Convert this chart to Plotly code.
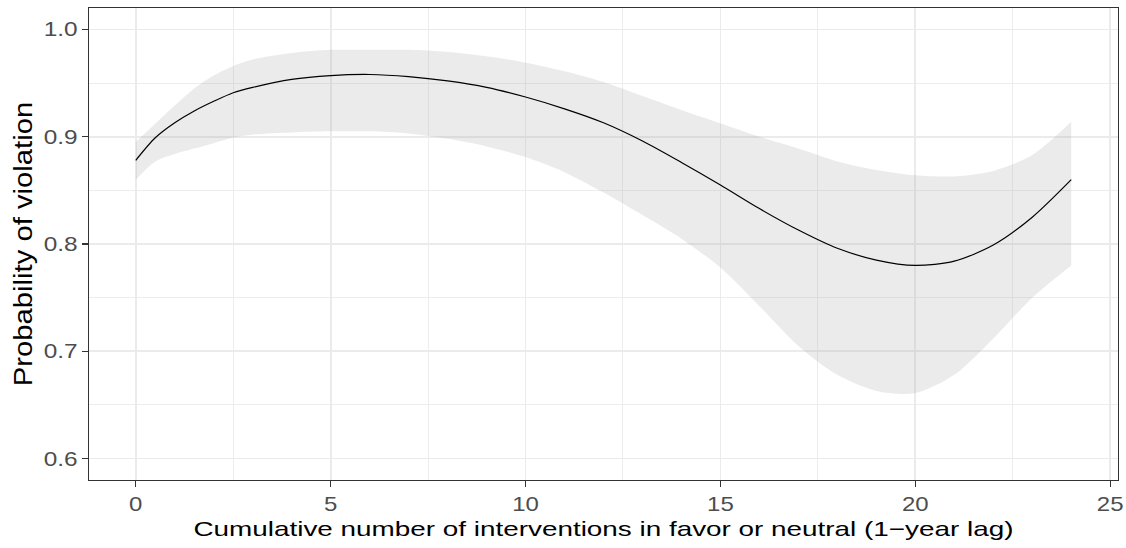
import plotly.graph_objects as go

# Data
x_vals = [0, 0.5, 1, 1.5, 2, 2.5, 3, 4, 5, 6, 7, 8, 9, 10, 11, 12, 13, 14, 15,
          16, 17, 18, 19, 20, 21, 22, 23, 24]
fit = [0.878, 0.899, 0.913, 0.924, 0.933, 0.941, 0.946, 0.9535, 0.957, 0.958,
       0.956, 0.952, 0.946, 0.937, 0.926, 0.913, 0.896, 0.876, 0.855, 0.833,
       0.813, 0.796, 0.785, 0.780, 0.784, 0.799, 0.825, 0.860]
upper = [0.895, 0.912, 0.929, 0.945, 0.957, 0.966, 0.972, 0.978, 0.981, 0.981,
         0.981, 0.979, 0.975, 0.969, 0.961, 0.951, 0.938, 0.925, 0.9125, 0.900,
         0.889, 0.877, 0.869, 0.864, 0.863, 0.868, 0.883, 0.914]
lower = [0.860, 0.877, 0.884, 0.889, 0.894, 0.899, 0.902, 0.904, 0.905, 0.905,
         0.903, 0.898, 0.891, 0.881, 0.867, 0.848, 0.827, 0.805, 0.778, 0.742,
         0.705, 0.678, 0.663, 0.661, 0.678, 0.712, 0.750, 0.780]

x_title = "Cumulative number of interventions in favor or neutral (1\u2212year lag)"
y_title = "Probability of violation"

FONT = "Liberation Sans, Arial, Helvetica, sans-serif"

fig = go.Figure()
fig.add_trace(go.Scatter(x=x_vals, y=lower, mode="lines",
                         line=dict(width=0, shape="spline", smoothing=0.8),
                         hoverinfo="skip", showlegend=False))
fig.add_trace(go.Scatter(x=x_vals, y=upper, mode="lines",
                         line=dict(width=0, shape="spline", smoothing=0.8),
                         fill="tonexty", fillcolor="rgba(153,153,153,0.2)",
                         hoverinfo="skip", showlegend=False))
fig.add_trace(go.Scatter(x=x_vals, y=fit, mode="lines",
                         line=dict(color="black", width=1.2, shape="spline", smoothing=0.8),
                         showlegend=False))

axis_common = dict(
    showline=True, mirror=True, linecolor="#333333", linewidth=1.3,
    ticks="outside", ticklen=6, tickwidth=1.3, tickcolor="#333333",
    showgrid=True, gridcolor="#EBEBEB", gridwidth=1.8,
    zeroline=False, automargin=False,
    tickfont=dict(family=FONT, size=20, color="#4D4D4D"),
)

fig.update_layout(
    width=1126, height=548,
    margin=dict(l=89, r=8, t=8, b=68),
    paper_bgcolor="white", plot_bgcolor="white",
    font=dict(family=FONT),
    xaxis=dict(
        range=[-1.2, 25.2], tick0=0, dtick=5,
        minor=dict(tick0=0, dtick=2.5, showgrid=True, gridcolor="#EBEBEB",
                   gridwidth=0.9, ticklen=0),
        title=dict(text=x_title, font=dict(family=FONT, size=20.5, color="black"),
                   standoff=7),
        **axis_common,
    ),
    yaxis=dict(
        range=[0.58, 1.02], tick0=0.6, dtick=0.1, tickformat=".1f",
        minor=dict(tick0=0.6, dtick=0.05, showgrid=True, gridcolor="#EBEBEB",
                   gridwidth=0.9, ticklen=0),
        title=dict(text=y_title, font=dict(family=FONT, size=25, color="black"),
                   standoff=10),
        **axis_common,
    ),
)

# Remove the page's default body margin, and widen the real SVG text
# horizontally to match the wider lettering of the reference.
post = """
document.body.style.margin = '0';
document.body.style.overflow = 'hidden';
var gd = document.getElementById('{plot_id}');
function stretch(el, sx, sy, mode) {
  var bb = el.getBBox();
  var ax = (mode === 'end') ? bb.x + bb.width : bb.x + bb.width / 2;
  var ay = bb.y + bb.height / 2;
  var t = el.getAttribute('transform') || '';
  el.setAttribute('transform', t + ' translate(' + ax + ',' + ay + ') scale(' + sx + ',' + sy + ') translate(' + (-ax) + ',' + (-ay) + ')');
}
gd.querySelectorAll('g.xtick text').forEach(function (el) { stretch(el, 1.2, 1, 'mid'); });
gd.querySelectorAll('g.ytick text').forEach(function (el) { stretch(el, 1.22, 1, 'end'); });
gd.querySelectorAll('text.xtitle').forEach(function (el) { stretch(el, 1.36, 1, 'mid'); });
gd.querySelectorAll('text.ytitle').forEach(function (el) { stretch(el, 1.17, 1, 'mid'); });
"""

fig.write_html("out.html", post_script=post,
               config={"displayModeBar": False, "staticPlot": True})
